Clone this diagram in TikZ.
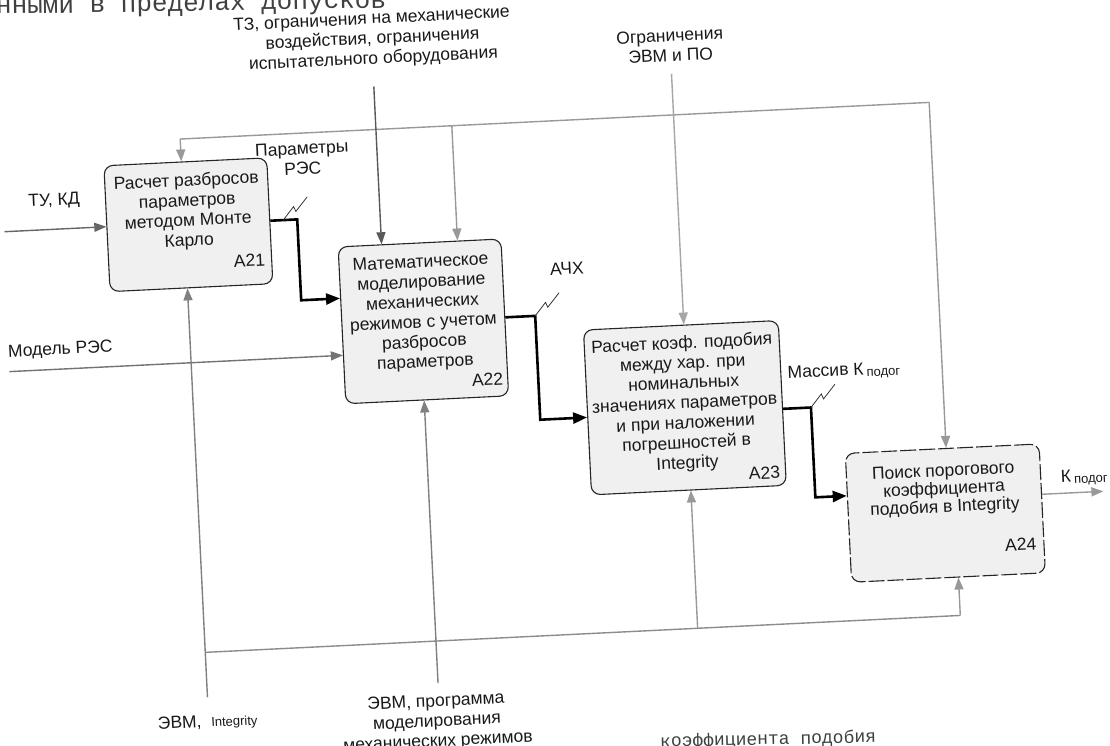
\documentclass[tikz,border=0pt]{standalone}
\usepackage{fontspec}
\usetikzlibrary{arrows.meta,calc}
\newfontfamily\dgmfam{Liberation Sans}
\newfontfamily\pgmono{Liberation Mono}
\newcommand\dgmfont{\dgmfam\fontsize{17.5}{20}\selectfont}
\newcommand\dgmsmall{\dgmfam\fontsize{13}{15}\selectfont}
\newcommand\pgfontx{\pgmono\fontsize{26}{28}\selectfont}
\newcommand\pgfonty{\pgmono\fontsize{18}{20}\selectfont}
\tikzset{
  procbox/.style={draw=black!85, line width=1.1pt, rounded corners=9pt, fill=black!6, inner sep=0pt},
  boxtext/.style={align=center, inner sep=0pt, font=\dgmfont, text=black!90},
  idtext/.style={inner sep=0pt, font=\dgmfont, text=black!90},
  lbl/.style={align=center, inner sep=0pt, font=\dgmfont, text=black!90},
  graytip/.style={-{Triangle[length=12pt,width=9pt]}},
  ctl/.style={line width=1.4pt, graytip},
  thickarr/.style={draw=black, line width=2.6pt, -{Triangle[length=14pt,width=11pt]}},
  plainline/.style={line width=1.4pt},
  squig/.style={draw=black!80, line width=0.8pt},
  pagetext/.style={inner sep=0pt, text=black!75}
}
\begin{document}
\begin{tikzpicture}[x=1pt,y=-1pt]
\useasboundingbox (0,0) rectangle (1110,745);
\fill[white] (0,0) rectangle (1110,745);

% fragments of the scanned page
\node[pagetext, font=\pgfontx, anchor=base west, rotate=0.9] (pgtop) at (-4,14) {нными в пределах допусков};
\node[pagetext, font=\pgfonty, anchor=base west, rotate=1.2] (pgbot) at (660,747) {коэффициента подобия};

\begin{scope}[rotate around={2.8:(555,372)}, transform shape]
% boxes
\node[procbox, minimum width=163pt, minimum height=126pt] (a21) at (196,207) {};
\node[procbox, minimum width=163pt, minimum height=157pt] (a22) at (426,315) {};
\node[procbox, minimum width=195pt, minimum height=165pt] (a23) at (683,414) {};
\node[procbox, minimum width=194pt, minimum height=129pt, dash pattern=on 16pt off 3pt] (a24) at (938,532) {};

\node[boxtext, anchor=north] (a21t) at ($(a21.north)+(0,12)$) {Расчет разбросов\\параметров\\методом Монте\\Карло};
\node[boxtext, anchor=north] (a22t) at ($(a22.north)+(0,13)$) {Математическое\\моделирование\\механических\\режимов с учетом\\разбросов\\параметров};
\node[boxtext, anchor=north] (a23t) at ($(a23.north)+(0,11)$) {Расчет коэф. подобия\\между хар. при\\номинальных\\значениях параметров\\и при наложении\\погрешностей в\\Integrity};
\node[boxtext, anchor=north, font=\dgmfam\fontsize{17.5}{18}\selectfont] (a24t) at ($(a24.north)+(0,16)$) {Поиск порогового\\коэффициента\\подобия в Integrity};

\node[idtext, anchor=base east] (a21id) at ($(a21.south east)+(-7,-19)$) {A21};
\node[idtext, anchor=base east] (a22id) at ($(a22.south east)+(-5,-12)$) {A22};
\node[idtext, anchor=base east] (a23id) at ($(a23.south east)+(-6,-8)$) {A23};
\node[idtext, anchor=base east] (a24id) at ($(a24.south east)+(-8,-24)$) {A24};

% coordinates
\coordinate (tlL) at (192,121);
\coordinate (tlR) at (942,121);
\coordinate (tlB) at (464,121);
\coordinate (tzTop) at (388,78);
\coordinate (ogTop) at (686,80);
\coordinate (tuIn) at (12,205);
\coordinate (modIn) at (10,345);
\coordinate (mL) at (192,680);
\coordinate (bl) at (192,635);
\coordinate (blR) at (948,635);
\coordinate (bA23) at (685,635);
\coordinate (mP) at (423,677);
\coordinate (k1) at (305,207);
\coordinate (a22in1) at ($(a22.west)+(0,-27)$);
\coordinate (k2) at (538,315);
\coordinate (a23in) at ($(a23.west)+(0,5)$);
\coordinate (a23out) at ($(a23.east)+(0,6)$);
\coordinate (k3) at (809,420);
\coordinate (a24in) at ($(a24.west)+(0,-22)$);
\coordinate (a24out) at ($(a24.east)+(0,-14)$);
\coordinate (kOut) at (1097,518);
\coordinate (sq1) at (291,207);
\coordinate (sq2) at (538,315);
\coordinate (sq3) at (809,420);

% control lines (top)
\draw[plainline, draw=black!40] (tlL) -- (tlR);
\draw[ctl, draw=black!40] (tlL) -- (tlL |- a21.north);
\draw[ctl, draw=black!40] (tlB) -- (tlB |- a22.north);
\draw[ctl, draw=black!40] (tlR) -- (tlR |- a24.north);
\draw[ctl, draw=black!65] (tzTop) -- (tzTop |- a22.north);
\draw[ctl, draw=black!35] (ogTop) -- (ogTop |- a23.north);

% inputs
\draw[ctl, draw=black!60] (tuIn) -- (tuIn -| a21.west);
\draw[ctl, draw=black!55] (modIn) -- (modIn -| a22.west);

% mechanisms (bottom)
\draw[ctl, draw=black!50] (mL) -- (mL |- a21.south);
\draw[plainline, draw=black!45] (bl) -- (blR);
\draw[ctl, draw=black!40] (blR) -- (blR |- a24.south);
\draw[ctl, draw=black!40] (bA23) -- (bA23 |- a23.south);
\draw[ctl, draw=black!50] (mP) -- (mP |- a22.south);

% outputs
\draw[thickarr] (a21.east) -- (k1) |- (a22in1);
\draw[thickarr] (a22.east) -- (k2) |- (a23in);
\draw[thickarr] (a23out) -- (k3) |- (a24in);
\draw[ctl, draw=black!40] (a24out) -- (kOut);

% squiggles
\draw[squig] (sq1) -- ++(11,-13) -- ++(2,5) -- ++(12,-14);
\draw[squig] (sq2) -- ++(11,-13) -- ++(2,5) -- ++(12,-14);
\draw[squig] (sq3) -- ++(11,-13) -- ++(2,5) -- ++(12,-14);

% labels
\node[lbl, anchor=north] (tzL) at (389,3) {ТЗ, ограничения на механические\\воздействия, ограничения\\испытательного оборудования};
\node[lbl, anchor=north] (ogL) at (686,35) {Ограничения\\ЭВМ и ПО};
\node[lbl] (tuL) at (63,177) {ТУ, КД};
\node[lbl] (modL) at (62,326) {Модель РЭС};
\node[lbl, anchor=north] (parL) at (313,130) {Параметры\\РЭС};
\node[lbl] (achL) at (572,269) {АЧХ};
\node[lbl, anchor=west] (masL) at (787,386) {Массив К\,\raisebox{-2pt}{\dgmsmall подог}};
\node[lbl, anchor=west] (kL) at (1055,503) {К\,\raisebox{-2pt}{\dgmsmall подог}};
\node[lbl] (evmL) at (191,705) {ЭВМ,\ \ {\dgmsmall Integrity}};
\node[lbl, anchor=north] (evmPL) at (420,688) {ЭВМ, программа\\моделирования\\механических режимов};
\end{scope}
\end{tikzpicture}
\end{document}
